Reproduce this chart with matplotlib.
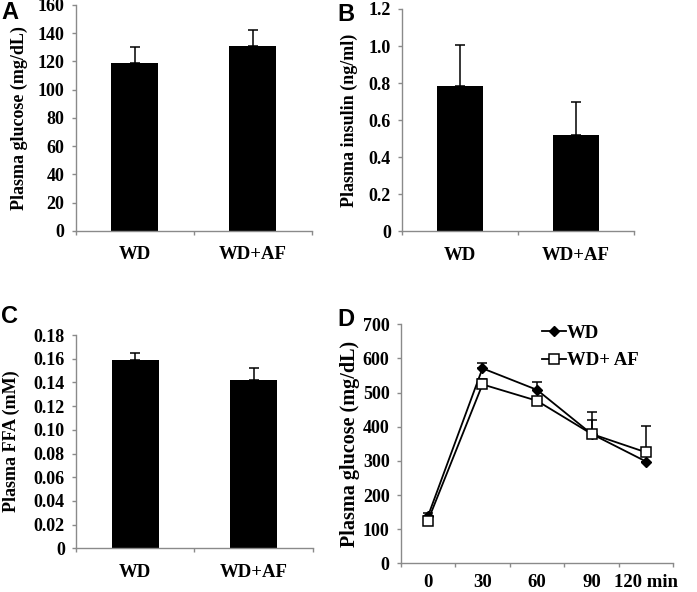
import matplotlib
matplotlib.use("Agg")
import matplotlib.pyplot as plt
from matplotlib.lines import Line2D
import numpy as np

# ---- data ----
groups = ["WD", "WD+AF"]
glucose = [119.2, 131.2]
glucose_err = [11.1, 11.1]
insulin = [0.782, 0.518]
insulin_err = [0.226, 0.183]
ffa = [0.1586, 0.1417]
ffa_err = [0.0064, 0.0107]

ogtt_times = ["0", "30", "60", "90", "120 min"]
ogtt_wd = [138, 571, 508, 379, 298]
ogtt_wd_err = [8, 15, 24, 41, 0]
ogtt_af = [125, 524, 476, 379, 325]
ogtt_af_err = [8, 16, 6, 65, 77]

SERIF = ["Liberation Serif", "DejaVu Serif"]
SANS = ["Liberation Sans", "DejaVu Sans"]
GRAY = "#8a8a8a"
TICK_FS = 13
XLAB_FS = 13.5
YLAB_FS = 13
LETTER_FS = 17

fig = plt.figure(figsize=(6.97, 5.92), dpi=100)

def style_axes(ax):
    for s in ["top", "right"]:
        ax.spines[s].set_visible(False)
    for s in ["left", "bottom"]:
        ax.spines[s].set_color(GRAY)
        ax.spines[s].set_linewidth(1.0)
    ax.tick_params(axis="both", which="major", direction="out", length=3,
                   width=1.0, color=GRAY)
    ax.tick_params(axis="y", pad=5)

def bar_panel(rect, vals, errs, ymax, step, fmt, ylabel, letter, lpos):
    ax = fig.add_axes(rect)
    x = np.arange(len(vals))
    ax.bar(x, vals, width=0.4, color="black", zorder=2)
    ax.errorbar(x, vals, yerr=[np.zeros(len(vals)), errs], fmt="none",
                ecolor="black", elinewidth=1.1, capsize=3.5, capthick=1.1, zorder=3)
    ax.set_xlim(-0.5, len(vals) - 0.5)
    ax.set_ylim(0, ymax)
    ticks = np.arange(0, ymax + step / 2, step)
    ax.set_yticks(ticks)
    ax.set_yticklabels([fmt(t) for t in ticks], fontfamily=SERIF,
                       fontweight="bold", fontsize=TICK_FS)
    ax.set_xticks(np.arange(-0.5, len(vals), 1.0))
    ax.set_xticklabels([])
    ax.set_xticks(x, minor=True)
    ax.set_xticklabels(groups, minor=True, fontfamily=SERIF,
                       fontweight="bold", fontsize=XLAB_FS)
    ax.tick_params(axis="x", which="minor", length=0, pad=11)
    style_axes(ax)
    ax.set_ylabel(ylabel, fontfamily=SERIF, fontweight="bold", fontsize=YLAB_FS)
    fig.text(lpos[0], lpos[1], letter, fontfamily=SANS, fontweight="bold",
             fontsize=LETTER_FS, ha="left", va="top")
    return ax

def fmt_int(t):
    return "%d" % round(t)

def fmt_1(t):
    return "0" if t == 0 else "%.1f" % t

def fmt_2(t):
    return "0" if t == 0 else "%.2f" % t

axA = bar_panel([0.1086, 0.6098, 0.3386, 0.3818], glucose, glucose_err, 160, 20,
                fmt_int, "Plasma glucose (mg/dL)", "A", (0.002, 0.998))
axB = bar_panel([0.5768, 0.609, 0.3329, 0.3758], insulin, insulin_err, 1.2, 0.2,
                fmt_1, "Plasma insulin (ng/ml)", "B", (0.484, 0.995))
axC = bar_panel([0.109, 0.0738, 0.340, 0.3603], ffa, ffa_err, 0.18, 0.02,
                fmt_2, "Plasma FFA (mM)", "C", (0.002, 0.484))
axA.yaxis.set_label_coords(-0.2, 0.5)
axB.yaxis.set_label_coords(-0.19, 0.5)
axC.yaxis.set_label_coords(-0.238, 0.5)

# ---- panel D ----
axD = fig.add_axes([0.5749, 0.0485, 0.3911, 0.4037])
xd = np.arange(len(ogtt_times))
axD.errorbar(xd, ogtt_wd, yerr=[np.zeros(len(xd)), ogtt_wd_err], color="black",
             marker="D", ms=5, mfc="black", mec="black", lw=1.3,
             elinewidth=1.1, capsize=3.5, capthick=1.1, zorder=3)
axD.errorbar(xd, ogtt_af, yerr=[np.zeros(len(xd)), ogtt_af_err], color="black",
             marker="s", ms=7, mfc="white", mec="black", mew=1.1, lw=1.3,
             elinewidth=1.1, capsize=3.5, capthick=1.1, zorder=4)
axD.set_xlim(-0.5, len(xd) - 0.5)
axD.set_ylim(0, 700)
yt = np.arange(0, 701, 100)
axD.set_yticks(yt)
axD.set_yticklabels([fmt_int(t) for t in yt], fontfamily=SERIF,
                    fontweight="bold", fontsize=TICK_FS)
axD.set_xticks(np.arange(-0.5, len(xd), 1.0))
axD.set_xticklabels([])
axD.set_xticks(xd, minor=True)
axD.set_xticklabels(ogtt_times, minor=True, fontfamily=SERIF,
                    fontweight="bold", fontsize=XLAB_FS)
axD.tick_params(axis="x", which="minor", length=0, pad=8)
style_axes(axD)
axD.set_ylabel("Plasma glucose (mg/dL)", fontfamily=SERIF, fontweight="bold",
               fontsize=14.5)
axD.yaxis.set_label_coords(-0.151, 0.5)
handles = [
    Line2D([], [], color="black", lw=1.3, marker="D", ms=5, mfc="black"),
    Line2D([], [], color="black", lw=1.3, marker="s", ms=7, mfc="white", mew=1.1),
]
axD.legend(handles, ["WD", "WD+ AF"], loc="upper left",
           bbox_to_anchor=(0.49, 1.03), frameon=False,
           prop={"family": SERIF, "weight": "bold", "size": XLAB_FS},
           handlelength=1.3, handletextpad=0.05, labelspacing=0.55,
           borderaxespad=0.0)
fig.text(0.484, 0.48, "D", fontfamily=SANS, fontweight="bold", fontsize=LETTER_FS,
         ha="left", va="top")

fig.savefig("out.png", dpi=100)
